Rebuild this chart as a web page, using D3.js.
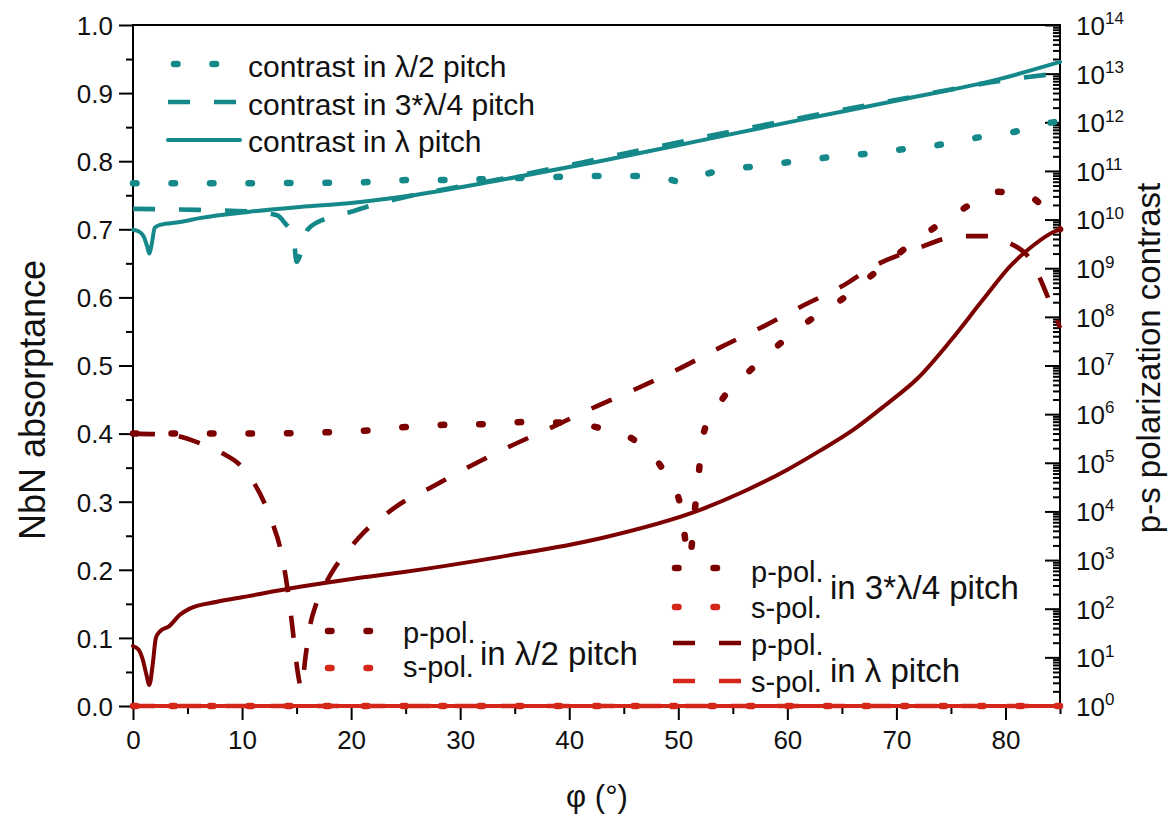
<!DOCTYPE html>
<html>
<head>
<meta charset="utf-8">
<script src="https://cdn.jsdelivr.net/npm/d3@7"></script>
<style>
  body { margin: 0; background: #fff; }
  text { font-family: "Liberation Sans", Arial, sans-serif; fill: #111; }
</style>
</head>
<body>
<svg id="chart" width="1170" height="815"></svg>
<script>
// ---- p-s polarization contrast (right, log axis) ----
const phiContrastHalf = [0, 10, 20, 25.4, 29, 32.5, 36, 39.5, 43.3, 46.8, 48.8, 50.4, 52, 53.7, 57.3, 60.5, 64.2, 67.9, 70.1, 73.8, 77.3, 80.7, 84.1, 85];
const contrastHalf = [5.6e10, 5.6e10, 5.75e10, 6.5e10, 6.5e10, 6.8e10, 7.2e10, 7.6e10, 7.9e10, 7.9e10, 7.0e10, 5.9e10, 8.0e10, 1.0e11, 1.26e11, 1.55e11, 1.95e11, 2.34e11, 2.7e11, 3.4e11, 4.8e11, 6.3e11, 9.8e11, 1.05e12];

const phiContrastThreeQ = [0, 6, 11, 13.2, 14.0, 14.7, 15.0, 15.6, 16.0, 17.8, 20, 22, 24.5, 33.7, 42.8, 52, 61.2, 70.4, 79.5, 85];
const contrastThreeQ = [1.66e10, 1.58e10, 1.45e10, 1.23e10, 8.1e9, 4.8e9, 1.35e9, 3.0e9, 6.2e9, 1.07e10, 1.45e10, 2.0e10, 2.75e10, 6.8e10, 1.78e11, 4.8e11, 1.23e12, 3.0e12, 7.1e12, 1.02e13];

const phiContrastFull = [0, 0.6, 1.0, 1.3, 1.5, 1.7, 2.0, 2.5, 4.3, 6.1, 10.7, 15.3, 20, 24.5, 33.7, 42.8, 52, 61.2, 70.4, 79.5, 85];
const contrastFull = [6.2e9, 5.6e9, 4.4e9, 2.8e9, 2.0e9, 3.0e9, 6.8e9, 7.8e9, 8.9e9, 1.07e10, 1.45e10, 1.82e10, 2.2e10, 2.9e10, 6.5e10, 1.58e11, 4.2e11, 1.12e12, 2.9e12, 7.8e12, 1.74e13];

// ---- NbN absorptance (left axis) ----
const phiAbsDotted = [0, 10, 18, 22, 25.2, 28.8, 32.4, 36, 39.4, 43.1, 46.1, 48.6, 50.2, 51.0, 51.6, 52.4, 54.1, 56.6, 59.4, 62.1, 64.9, 67.4, 70, 72.9, 75.9, 79.4, 82.3, 85];
const absDotted = [0.400, 0.400, 0.402, 0.405, 0.410, 0.413, 0.414, 0.417, 0.416, 0.407, 0.389, 0.347, 0.295, 0.215, 0.300, 0.405, 0.452, 0.493, 0.533, 0.567, 0.596, 0.628, 0.662, 0.696, 0.728, 0.755, 0.747, 0.700];

const phiAbsDashed = [0, 3.4, 6.1, 8.2, 9.8, 11.0, 12.0, 12.8, 13.5, 14.0, 14.4, 14.8, 15.1, 15.45, 15.8, 16.2, 16.8, 17.6, 18.5, 19.7, 21.1, 22.9, 24.8, 26.5, 30.3, 34.4, 38.5, 42.2, 45.9, 49.8, 53.9, 58, 61.2, 65.5, 67.6, 71.6, 75.9, 78.3, 80.2, 82.3, 84.1, 85];
const absDashed = [0.400, 0.398, 0.386, 0.371, 0.354, 0.330, 0.300, 0.268, 0.232, 0.190, 0.145, 0.090, 0.050, 0.026, 0.070, 0.115, 0.150, 0.178, 0.203, 0.228, 0.254, 0.278, 0.300, 0.314, 0.347, 0.380, 0.410, 0.438, 0.464, 0.493, 0.527, 0.559, 0.586, 0.621, 0.643, 0.670, 0.690, 0.690, 0.681, 0.655, 0.592, 0.555];

const phiAbsSolid = [0, 0.5, 0.9, 1.2, 1.5, 1.8, 2.1, 2.5, 3.3, 4.3, 5.2, 7.7, 10.1, 15.3, 20.2, 24.5, 33.7, 42.8, 52, 56, 60, 63, 66, 69, 72, 75, 78, 80.5, 82.6, 84.4, 85];
const absSolid = [0.088, 0.083, 0.068, 0.048, 0.031, 0.060, 0.100, 0.110, 0.117, 0.134, 0.143, 0.153, 0.160, 0.175, 0.187, 0.196, 0.219, 0.246, 0.288, 0.315, 0.347, 0.375, 0.405, 0.442, 0.482, 0.537, 0.598, 0.647, 0.677, 0.696, 0.700];

// s-polarised absorptance stays at zero over the whole range
const phiSPol = [0, 85];
const absSPol = [0, 0];

// ---- axis ticks ----
const xTicks = [0, 10, 20, 30, 40, 50, 60, 70, 80];
const xMinorTicks = [5, 15, 25, 35, 45, 55, 65, 75, 85];
const yTicks = [0, 0.1, 0.2, 0.3, 0.4, 0.5, 0.6, 0.7, 0.8, 0.9, 1.0];
const yMinorTicks = [0.05, 0.15, 0.25, 0.35, 0.45, 0.55, 0.65, 0.75, 0.85, 0.95];
const contrastDecades = [1e0, 1e1, 1e2, 1e3, 1e4, 1e5, 1e6, 1e7, 1e8, 1e9, 1e10, 1e11, 1e12, 1e13, 1e14];

const TEAL = "#15898a", MAROON = "#7d0000", RED = "#d42619";

const svg = d3.select("#chart");
const L = 133, R = 1060, T = 25, B = 706;
const x = d3.scaleLinear().domain([0, 85]).range([L, R]);
const yAbs = d3.scaleLinear().domain([0, 1]).range([B, T]);
const yCon = d3.scaleLog().domain([1, 1e14]).range([B, T]);

const styles = {
  solid:  { dash: null,      width: 4,   cap: "round" },
  dashed: { dash: "22 24",   width: 4.6, cap: "butt" },
  dotted: { dash: "3.5 35",  width: 6.5, cap: "round" }
};

function applyStyle(sel, color, style) {
  const s = styles[style];
  sel.attr("fill", "none").attr("stroke", color)
     .attr("stroke-width", s.width).attr("stroke-linecap", s.cap)
     .attr("stroke-linejoin", "round");
  if (s.dash) sel.attr("stroke-dasharray", s.dash);
  return sel;
}

// ---- frame and axes ----
const axisG = svg.append("g");
axisG.append("rect").attr("x", L).attr("y", T).attr("width", R - L).attr("height", B - T)
  .attr("fill", "none").attr("stroke", "#000").attr("stroke-width", 2);

function styleAxis(g) {
  g.select(".domain").remove();
  g.selectAll(".tick line").attr("stroke", "#000").attr("stroke-width", 2);
  g.selectAll(".tick text").attr("fill", "#111").style("font-family", "'Liberation Sans', Arial, sans-serif");
}

// left
axisG.append("g").attr("transform", `translate(${L},0)`)
  .call(d3.axisLeft(yAbs).tickValues(yTicks).tickSize(14).tickPadding(6).tickFormat(d3.format(".1f")))
  .call(styleAxis)
  .selectAll(".tick text").style("font-size", "26px").attr("dy", "0.36em");
axisG.append("g").attr("transform", `translate(${L},0)`)
  .call(d3.axisLeft(yAbs).tickValues(yMinorTicks).tickSize(7).tickFormat(""))
  .call(styleAxis);

// bottom
axisG.append("g").attr("transform", `translate(0,${B})`)
  .call(d3.axisBottom(x).tickValues(xTicks).tickSize(14).tickPadding(11).tickFormat(d3.format("d")))
  .call(styleAxis)
  .selectAll(".tick text").style("font-size", "26px");
axisG.append("g").attr("transform", `translate(0,${B})`)
  .call(d3.axisBottom(x).tickValues(xMinorTicks).tickSize(8).tickFormat(""))
  .call(styleAxis);

// right (log): ticks point inward, labels outside
const minorCon = [];
contrastDecades.slice(0, -1).forEach(d => { for (let k = 2; k <= 9; k++) minorCon.push(d * k); });
const rightAxis = axisG.append("g").attr("transform", `translate(${R},0)`)
  .call(d3.axisRight(yCon).tickValues(contrastDecades).tickSizeInner(-15).tickSizeOuter(0).tickPadding(16).tickFormat(() => ""))
  .call(styleAxis);
rightAxis.selectAll(".tick text").each(function(d) {
  const t = d3.select(this).style("font-size", "26px").attr("dy", "0.36em");
  t.append("tspan").text("10");
  t.append("tspan").text(Math.round(Math.log10(d))).attr("dy", "-0.62em").style("font-size", "17px");
});
axisG.append("g").attr("transform", `translate(${R},0)`)
  .call(d3.axisRight(yCon).tickValues(minorCon).tickSizeInner(-7).tickSizeOuter(0).tickFormat(() => ""))
  .call(styleAxis);

// axis titles
svg.append("text").attr("x", 597).attr("y", 807).attr("text-anchor", "middle")
  .style("font-size", "31px").text("φ (°)");
svg.append("text").attr("transform", "translate(45,400) rotate(-90)").attr("text-anchor", "middle")
  .style("font-size", "36px").text("NbN absorptance");
svg.append("text").attr("transform", "translate(1160,358) rotate(-90)").attr("text-anchor", "middle")
  .style("font-size", "33px").text("p-s polarization contrast");

// ---- curves ----
const plot = svg.append("g");
function drawCurve(xs, ys, yScale, color, style) {
  const pts = xs.map((v, i) => [v, ys[i]]);
  const line = d3.line().x(d => x(d[0])).y(d => yScale(d[1])).curve(d3.curveMonotoneX);
  applyStyle(plot.append("path").datum(pts).attr("d", line), color, style);
}

drawCurve(phiContrastHalf, contrastHalf, yCon, TEAL, "dotted");
drawCurve(phiContrastThreeQ, contrastThreeQ, yCon, TEAL, "dashed");
drawCurve(phiContrastFull, contrastFull, yCon, TEAL, "solid");

drawCurve(phiAbsDotted, absDotted, yAbs, MAROON, "dotted");
drawCurve(phiAbsDashed, absDashed, yAbs, MAROON, "dashed");
drawCurve(phiAbsSolid, absSolid, yAbs, MAROON, "solid");

drawCurve(phiSPol, absSPol, yAbs, RED, "solid");
drawCurve(phiSPol, absSPol, yAbs, RED, "dashed");
drawCurve(phiSPol, absSPol, yAbs, RED, "dotted");

// ---- legends ----
const leg = svg.append("g");
function sample(x1, x2, y, color, style) {
  applyStyle(leg.append("line").attr("x1", x1).attr("x2", x2).attr("y1", y).attr("y2", y), color, style);
}
function label(xp, y, txt, size) {
  leg.append("text").attr("x", xp).attr("y", y).attr("dy", "0.35em").style("font-size", size + "px").text(txt);
}

// contrast legend
sample(174, 240, 64, TEAL, "dotted");
label(248, 66, "contrast in λ/2 pitch", 30);
sample(168, 240, 102, TEAL, "dashed");
label(248, 104, "contrast in 3*λ/4 pitch", 30);
sample(168, 240, 140, TEAL, "solid");
label(248, 141, "contrast in λ pitch", 30);

// λ/2 pitch absorptance legend
sample(328, 372, 631, MAROON, "dotted");
sample(328, 372, 668, RED, "dotted");
label(403, 633, "p-pol.", 29);
label(403, 667, "s-pol.", 29);
label(480, 653, "in λ/2 pitch", 33);

// 3λ/4 and λ pitch absorptance legend
sample(675, 720, 568, MAROON, "dotted");
sample(675, 720, 607, RED, "dotted");
label(751, 572, "p-pol.", 29);
label(751, 608, "s-pol.", 29);
label(830, 587, "in 3*λ/4 pitch", 33);
sample(673, 744, 643, MAROON, "dashed");
sample(673, 744, 681, RED, "dashed");
label(751, 645, "p-pol.", 29);
label(751, 682, "s-pol.", 29);
label(830, 670, "in λ pitch", 33);
</script>
</body>
</html>
